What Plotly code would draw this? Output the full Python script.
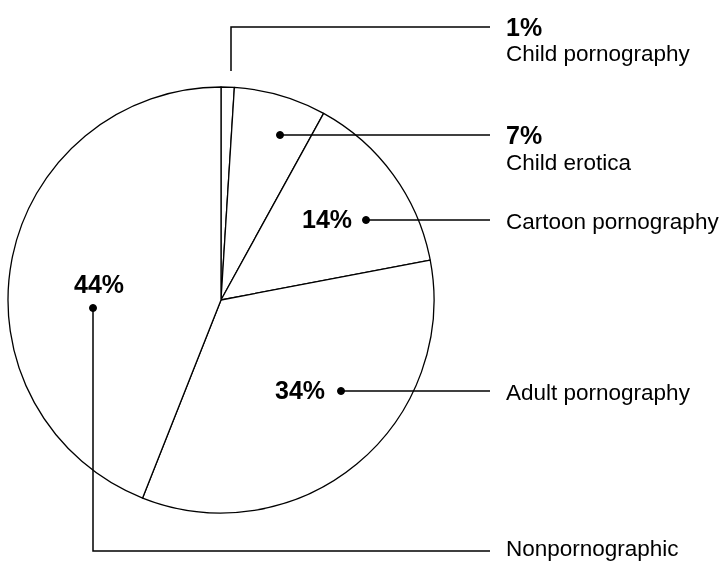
import plotly.graph_objects as go

# Share of images by category (percent)
labels = ["Child pornography", "Child erotica", "Cartoon pornography",
          "Adult pornography", "Nonpornographic"]
values = [1, 7, 14, 34, 44]

W, H = 726, 561
FONT = "Liberation Sans, Arial, Helvetica, sans-serif"

# Pie placement in pixels (center x, center y, radius)
CX, CY, R = 221, 300, 213

# Leader layout per label, in pixels:
# path of the leader line, dot position (or None), where the bold percent goes
# and its anchor, and the y of the category name on the right.
NAME_X = 504
leaders = {
    "Child pornography": dict(path=[(231, 71), (231, 27), (490, 27)], dot=None,
                              pct=(NAME_X, 27, "left"), name_y=53),
    "Child erotica": dict(path=[(280, 135), (490, 135)], dot=(280, 135),
                          pct=(NAME_X, 135, "left"), name_y=162),
    "Cartoon pornography": dict(path=[(366, 220), (490, 220)], dot=(366, 220),
                                pct=(354, 219, "right"), name_y=221),
    "Adult pornography": dict(path=[(341, 391), (490, 391)], dot=(341, 391),
                              pct=(327, 390, "right"), name_y=392),
    "Nonpornographic": dict(path=[(93, 308), (93, 551), (490, 551)], dot=(93, 308),
                            pct=(99, 284, "center"), name_y=548),
}

fig = go.Figure()

fig.add_trace(go.Pie(
    labels=labels, values=values,
    sort=False, direction="clockwise", rotation=0,
    marker=dict(colors=["white"] * len(values), line=dict(color="black", width=1.3)),
    textinfo="none", hoverinfo="label+percent", showlegend=False,
    domain=dict(x=[(CX - R) / W, (CX + R) / W],
                y=[1 - (CY + R) / H, 1 - (CY - R) / H]),
))

# leader lines and dots as shapes above the pie, on a hidden pixel-sized axis
for lab, val in zip(labels, values):
    ld = leaders[lab]
    path = "M " + " L ".join(f"{x},{y}" for x, y in ld["path"])
    fig.add_shape(type="path", path=path, xref="x", yref="y", layer="above",
                  line=dict(color="black", width=1.5))
    if ld["dot"]:
        dx, dy = ld["dot"]
        fig.add_shape(type="circle", xref="x", yref="y", layer="above",
                      x0=dx - 3.5, x1=dx + 3.5, y0=dy - 3.5, y1=dy + 3.5,
                      fillcolor="black", line=dict(color="black", width=1))
    px_, py_, anchor = ld["pct"]
    fig.add_annotation(x=px_, y=py_, text=f"<b>{val}%</b>", showarrow=False,
                       xanchor=anchor, yanchor="middle",
                       font=dict(family=FONT, size=25, color="black"))
    fig.add_annotation(x=NAME_X, y=ld["name_y"], text=lab, showarrow=False,
                       xanchor="left", yanchor="middle",
                       font=dict(family=FONT, size=22.5, color="black"))

# an invisible trace so the cartesian axes exist
fig.add_trace(go.Scatter(x=[0, W], y=[0, H], mode="markers", opacity=0,
                         hoverinfo="skip", showlegend=False))

fig.update_xaxes(range=[0, W], visible=False, fixedrange=True)
fig.update_yaxes(range=[H, 0], visible=False, fixedrange=True)
fig.update_layout(width=W, height=H, margin=dict(l=0, r=0, t=0, b=0),
                  paper_bgcolor="white", plot_bgcolor="rgba(0,0,0,0)",
                  font=dict(family=FONT, color="black"))

fig.write_html("out.html", config={"displayModeBar": False},
               post_script="document.body.style.margin='0';document.body.style.overflow='hidden';")
